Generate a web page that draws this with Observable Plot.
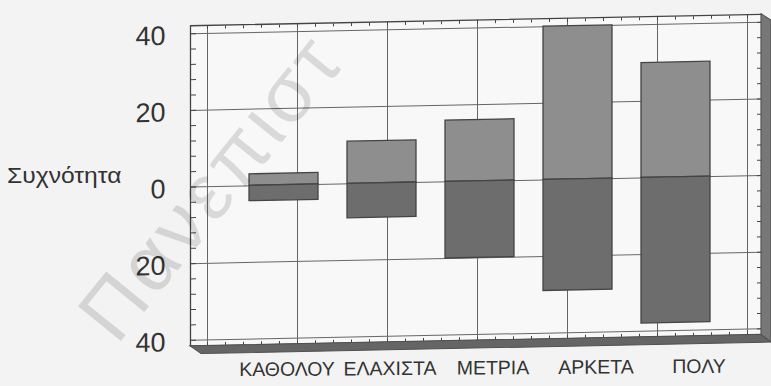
<!DOCTYPE html>
<html><head><meta charset="utf-8">
<script src="https://cdn.jsdelivr.net/npm/d3@7"></script>
<script src="https://cdn.jsdelivr.net/npm/@observablehq/plot@0.6"></script>
<style>
html,body{margin:0;padding:0;background:#f3f3f3;}
#wrap{position:relative;width:771px;height:386px;overflow:hidden;font-family:"Liberation Sans",Arial,sans-serif;}
.layer{position:absolute;left:0;top:0;}
.skew{transform-origin:477px 181px;transform:skewY(-1.15deg);}
.skewc{transform-origin:490px 368px;transform:skewY(-0.4deg);}
#ylab{position:absolute;left:7px;top:163px;font-size:22px;color:#333;white-space:nowrap;transform-origin:0 0;transform:scaleX(1.12);}
#wm{position:absolute;left:60px;top:300px;font-size:80px;letter-spacing:4px;color:#000;opacity:0.12;white-space:nowrap;transform-origin:0 0;transform:rotate(-51deg);pointer-events:none;}
</style></head><body>
<div id="wrap"></div>
<script>
// ---- data ----
const categories = ["ΚΑΘΟΛΟΥ", "ΕΛΑΧΙΣΤΑ", "ΜΕΤΡΙΑ", "ΑΡΚΕΤΑ", "ΠΟΛΥ"];
const upperValues = [3, 11, 16, 40, 30];
const lowerValues = [-4, -9, -20, -29, -38];
const yTickValues = [-40, -20, 0, 20, 40];
const yMinorTicks = d3.range(-40, 41, 4);
const gridColumns = [0, 1, 2, 3, 4, 5, 6];
const xMinorTicks = d3.range(0, 30.5, 1).map(v => v / 5);
const yAxisLabel = "Συχνότητα";
const watermark = "Πανεπιστ";

const rows = categories.map((c, i) => ({cat: c, up: upperValues[i], low: lowerValues[i]}));

const W = 771, H = 386;
const M = {marginLeft: 190, marginRight: 10, marginTop: 19.5, marginBottom: 46};
const yScale = {domain: [-40, 40], range: [334, 27.5], axis: null};
const font = {fontFamily: "'Liberation Sans', Arial, sans-serif", background: "transparent", overflow: "visible"};
const blank = () => "";

const wrap = document.getElementById("wrap");

// Layer A: frame, grid, ticks, y labels
const A = Plot.plot({
  width: W, height: H, ...M, style: font,
  x: {domain: [0, 6], range: [207, 747], axis: null},
  y: yScale,
  marks: [
    Plot.frame({fill: "#f8f8f8", stroke: null}),
    Plot.gridX(gridColumns, {stroke: "#666", strokeOpacity: 1, strokeWidth: 1}),
    Plot.gridY(yTickValues, {stroke: "#666", strokeOpacity: 1, strokeWidth: 1}),
    Plot.axisY(yMinorTicks, {anchor: "left", tickSize: 6, insetLeft: 6, tickFormat: blank, label: null, stroke: "#444"}),
    Plot.axisY(yMinorTicks, {anchor: "right", tickSize: 5, insetRight: 5, tickFormat: blank, label: null, stroke: "#444"}),
    Plot.axisX(xMinorTicks, {anchor: "top", tickSize: 3, insetTop: 3, tickFormat: blank, label: null, stroke: "#444"}),
    Plot.axisX(xMinorTicks, {anchor: "bottom", tickSize: 3, insetBottom: 3, tickFormat: blank, label: null, stroke: "#444"}),
    Plot.axisY(yTickValues, {anchor: "left", tickSize: 0, tickPadding: 25, tickFormat: d => Math.abs(d), fontSize: 27, color: "#333", label: null, dy: 2}),
    Plot.frame({stroke: "#444", strokeWidth: 1.3})
  ]
});
// 3D floor and right wall (decoration)
const sA = d3.select(A);
sA.append("path").attr("d", "M190,340L761,340L771,348L201,348Z").attr("fill", "#656565").attr("stroke", "#505050");
sA.append("path").attr("d", "M761,19.5L771,26L771,348L761,340Z").attr("fill", "#777").attr("stroke", "#505050");
A.classList.add("layer", "skew");
wrap.appendChild(A);

// Layer B: bars
const B = Plot.plot({
  width: W, height: H, ...M, style: font,
  x: {type: "band", domain: categories, range: [234, 725.5], paddingInner: 0.297, paddingOuter: 0.1485, axis: null},
  y: yScale,
  marks: [
    Plot.barY(rows, {x: "cat", y: "up", fill: "#8e8e8e", stroke: "#444", strokeWidth: 1.3}),
    Plot.barY(rows, {x: "cat", y: "low", fill: "#6d6d6d", stroke: "#444", strokeWidth: 1.3})
  ]
});
B.classList.add("layer", "skew");
wrap.appendChild(B);

// Layer C: category labels
const C = Plot.plot({
  width: W, height: H, marginLeft: 0, marginRight: 0, marginTop: 0, marginBottom: 25, style: font,
  x: {type: "band", domain: categories, range: [233.25, 750.75], padding: 0},
  marks: [
    Plot.axisX({anchor: "bottom", tickSize: 0, tickPadding: -1, fontSize: 19.5, color: "#333", label: null})
  ]
});
C.classList.add("layer", "skewc");
wrap.appendChild(C);

const yl = document.createElement("div");
yl.id = "ylab"; yl.textContent = yAxisLabel;
wrap.appendChild(yl);

const wm = document.createElement("div");
wm.id = "wm"; wm.textContent = watermark;
wrap.appendChild(wm);
</script>
</body></html>
